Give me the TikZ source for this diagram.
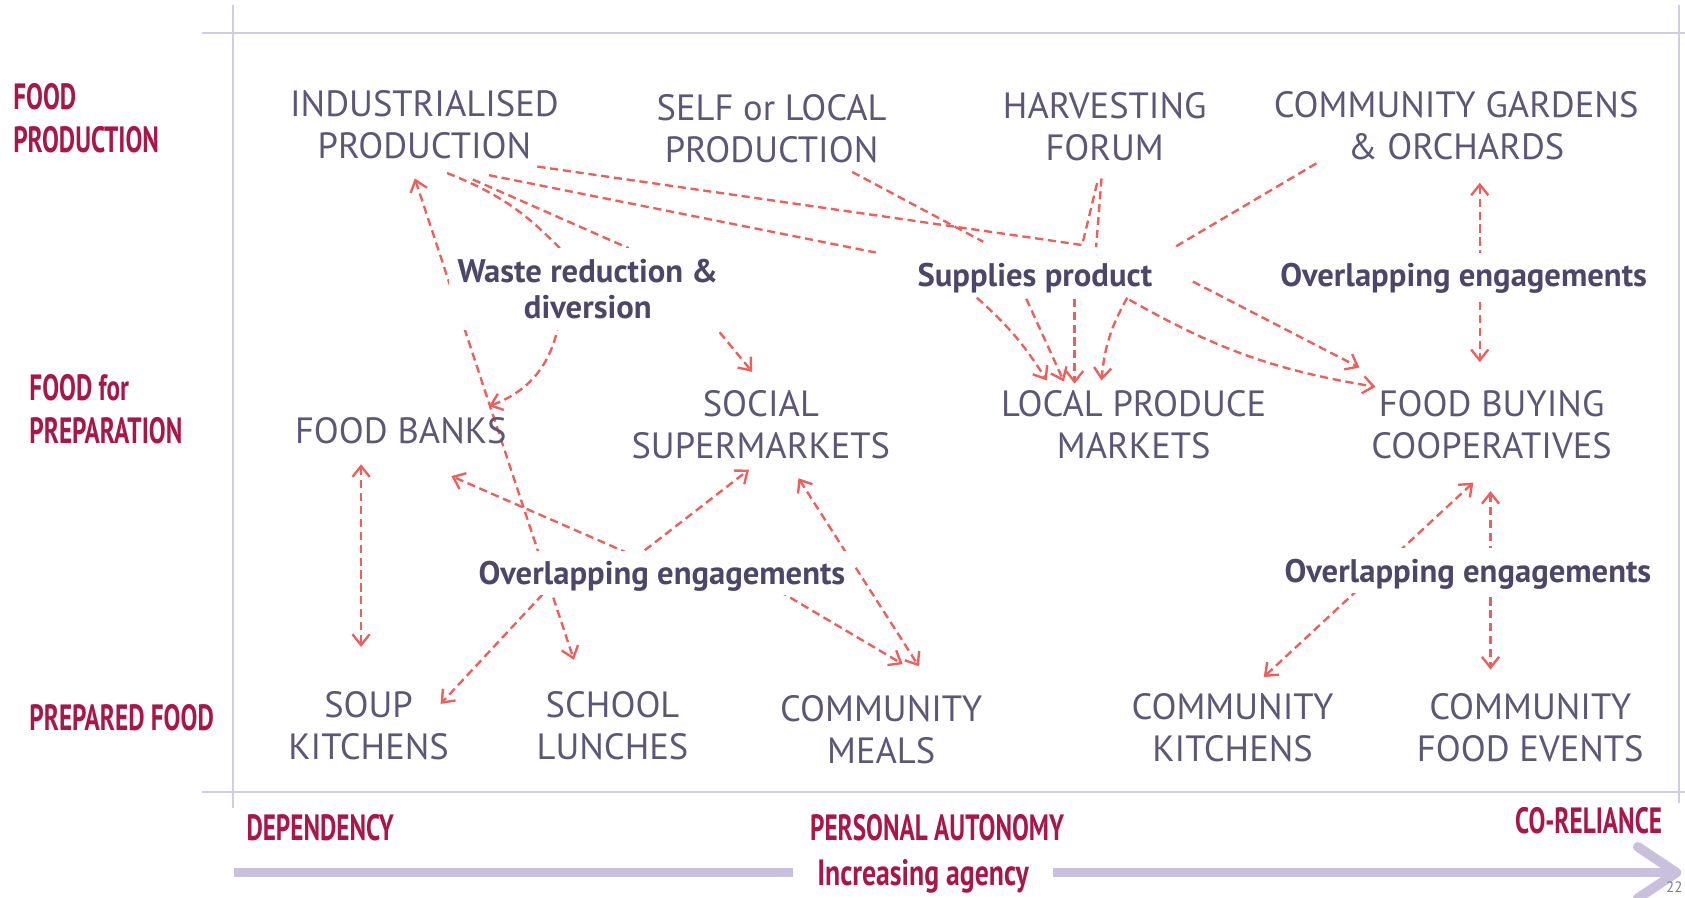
\documentclass[tikz,border=0pt]{standalone}
\usepackage{fontspec}
\setmainfont{PT Sans}
\newfontfamily\redfont{PT Sans}[FakeStretch=0.69]
\newfontfamily\redwide{PT Sans}[FakeStretch=0.76]
\usetikzlibrary{arrows.meta,calc}
\definecolor{nodetxt}{HTML}{5E5676}
\definecolor{lbltxt}{HTML}{4E4668}
\definecolor{axred}{HTML}{A8164A}
\definecolor{linkc}{HTML}{EE5F5B}
\definecolor{framec}{HTML}{D2CCE6}
\definecolor{barc}{HTML}{C8C0DD}
\pgfdeclarelayer{bg}
\pgfsetlayers{bg,main}
\begin{document}
\begin{tikzpicture}[x=0.5pt,y=-0.5pt,
  every node/.style={inner sep=0pt},
  item/.style={font=\fontsize{17}{19.5}\selectfont, text=nodetxt, align=center},
  lbl/.style={font=\fontsize{15.2}{17}\selectfont\bfseries, text=lbltxt, align=center, fill=white, inner xsep=4pt, inner ysep=5pt},
  lbli/.style={lbl, text height=10.6pt, text depth=0pt},
  axis/.style={font=\redfont\fontsize{17}{20}\selectfont\bfseries, text=axred, align=left},
  framel/.style={draw=framec, line width=1pt},
  bigbar/.style={draw=barc, line width=4.5pt},
  link/.style={draw=linkc, line width=1.1pt, dash pattern=on 3.8pt off 2.2pt},
  lk/.style={link, -{Straight Barb[length=5pt,width=8pt]}},
  lkk/.style={link, {Straight Barb[length=5pt,width=8pt]}-{Straight Barb[length=5pt,width=8pt]}}
]
\useasboundingbox (0,0) rectangle (1568,835);

% axis labels
\node[axis, anchor=west] (ax1) at (12,110) {FOOD\\PRODUCTION};
\node[axis, anchor=west] (ax2) at (27,381) {FOOD for\\PREPARATION};
\node[axis, anchor=west] (ax3) at (27,668) {PREPARED FOOD};
\node[axis, anchor=west] (dep) at (229,770) {DEPENDENCY};
\node[axis] (pers) at (872,770) {PERSONAL AUTONOMY};
\node[axis, anchor=east] (corel) at (1547,764) {CO-RELIANCE};
\node[axis, font=\redwide\fontsize{17}{20}\selectfont\bfseries, fill=white, inner xsep=11pt, text height=12pt, text depth=0pt] (agency) at (859,812) {Increasing agency};
\node[font=\fontsize{7}{8}\selectfont, text=gray, anchor=north west] (pg) at (1550,820) {22};

% items
\node[item] (ind) at (395,116) {INDUSTRIALISED\\PRODUCTION};
\node[item] (self) at (718,120) {SELF or LOCAL\\PRODUCTION};
\node[item] (harv) at (1028,118) {HARVESTING\\FORUM};
\node[item] (gard) at (1355,117) {COMMUNITY GARDENS\\\& ORCHARDS};
\node[item] (fb) at (373,401) {FOOD BANKS};
\node[item] (soc) at (708,395) {SOCIAL\\SUPERMARKETS};
\node[item] (lpm) at (1055,395) {LOCAL PRODUCE\\MARKETS};
\node[item] (fbc) at (1388,395) {FOOD BUYING\\COOPERATIVES};
\node[item] (soup) at (343,675) {SOUP\\KITCHENS};
\node[item] (school) at (570,675) {SCHOOL\\LUNCHES};
\node[item] (cmeals) at (820,679) {COMMUNITY\\MEALS};
\node[item] (ckit) at (1147,677) {COMMUNITY\\KITCHENS};
\node[item] (cfe) at (1424,677) {COMMUNITY\\FOOD EVENTS};

% relation labels
\node[lbl] (waste) at (547,269) {Waste reduction \&\\diversion};
\node[lbli] (sup) at (963,256) {Supplies product};
\node[lbli] (ovtr) at (1362,256) {Overlapping engagements};
\node[lbli] (ovm) at (616,533) {Overlapping engagements};
\node[lbli] (ovbr) at (1366,531) {Overlapping engagements};

\begin{pgfonlayer}{bg}
% frame
\coordinate (vlT) at (217,5); \coordinate (vlB) at (217,752);
\coordinate (tlL) at (188,31); \coordinate (tlR) at (1568,31);
\coordinate (blL) at (188,737); \coordinate (blR) at (1568,737);
\coordinate (vrT) at (1562,5); \coordinate (vrB) at (1562,747);
\draw[framel] (vlT) -- (vlB);
\draw[framel] (tlL) -- (tlR);
\draw[framel] (blL) -- (blR);
\draw[framel] (vrT) -- (vrB);
% big arrow
\coordinate (barL) at (218,812); \coordinate (barR) at (1560,812);
\coordinate (hdT) at (1524,788); \coordinate (hdB) at (1524,836);
\draw[bigbar] (barL) -- (agency.west);
\draw[bigbar] (agency.east) -- (barR);
\draw[bigbar, line join=round, line cap=round] (hdT) -- (barR) -- (hdB);

% connectors
\draw[link] ($(ind)+(105,39)$) -- ($(sup)+(44,-28)$) -- ($(harv)+(-6,48)$);
\draw[link] ($(harv)+(-3,48)$) -- ($(sup)+(57,-26)$);
\draw[link] ($(ind)+(60,47)$) -- ($(sup)+(-148,-21)$);
\draw[link] ($(ind)+(21,45)$) to[bend left=12] ($(waste)+(-26,-38)$);
\draw[link] ($(ind)+(45,51)$) -- ($(waste)+(38,-38)$);
\draw[lkk] ($(ind)+(-9,50)$) -- ($(school)+(-36,-61)$);
\draw[lk] ($(waste)+(-27,31)$) to[bend left=30] ($(fb)+(82,-23)$);
\draw[lk] ($(waste)+(115,31)$) -- ($(soc)+(-8,-49)$);
\draw[link] ($(self)+(75,40)$) -- ($(sup)+(-48,-31)$);
\draw[link] ($(gard)+(-130,35)$) -- ($(sup)+(130,-26)$);
\draw[lkk] ($(gard)+(22,53)$) -- ($(fbc)+(-11,-58)$);
\draw[lk] ($(sup)+(-54,21)$) to[bend left=8] ($(lpm)+(-81,-41)$);
\draw[lk] ($(sup)+(-8,22)$) -- ($(lpm)+(-65,-40)$);
\draw[lk] ($(sup)+(37,22)$) -- ($(lpm)+(-55,-38)$);
\draw[lk] ($(sup)+(86,21)$) to[bend right=12] ($(lpm)+(-30,-41)$);
\draw[lk] ($(sup)+(147,6)$) -- ($(fbc)+(-123,-53)$);
\draw[lk] ($(sup)+(88,23)$) to[bend right=10] ($(fbc)+(-108,-35)$);
\draw[lkk] ($(fb)+(-37,31)$) -- ($(soup)+(-7,-73)$);
\draw[lk] ($(ovm)+(-31,-18)$) -- ($(fb)+(47,42)$);
\draw[lk] ($(ovm)+(-16,-21)$) -- ($(soc)+(-11,42)$);
\draw[lk] ($(ovm)+(-111,20)$) -- ($(soup)+(67,-20)$);
\draw[lk] ($(ovm)+(109,17)$) -- ($(cmeals)+(20,-61)$);
\draw[lkk] ($(soc)+(35,50)$) -- ($(cmeals)+(35,-59)$);
\draw[lkk] ($(fbc)+(-17,54)$) -- ($(ckit)+(29,-47)$);
\draw[lkk] ($(fbc)+(-1,62)$) -- ($(cfe)+(-37,-54)$);
\end{pgfonlayer}
\end{tikzpicture}
\end{document}
